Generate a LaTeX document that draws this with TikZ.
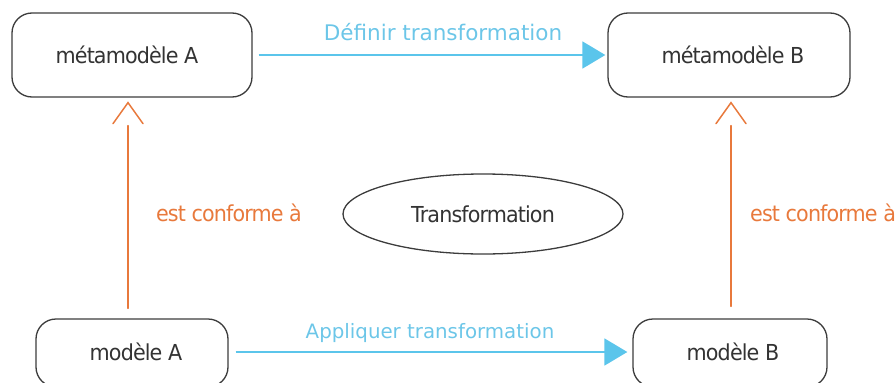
\documentclass[tikz,border=0pt]{standalone}
\usepackage{fontspec}
\setmainfont{DejaVu Sans}
\newfontfamily\condf{DejaVu Sans}[FakeStretch=0.94,LetterSpace=-4]
\usetikzlibrary{arrows.meta,shapes.geometric}
\definecolor{tblue}{HTML}{5BC5EB}
\definecolor{tbluetext}{HTML}{6CC6E8}
\definecolor{torange}{HTML}{E8793C}
\definecolor{tdark}{HTML}{333333}
\definecolor{tborder}{HTML}{3C3C3C}
\tikzset{
  txtfont/.style={font=\condf\fontsize{22}{24}\selectfont},
  boxnode/.style={draw=tborder,line width=1.3pt,rounded corners=20pt,fill=white,
    minimum width=#1,inner sep=0pt},
  boxtext/.style={text=tdark,txtfont,inner sep=0pt},
  ellnode/.style={draw=tborder,line width=1.3pt,ellipse,inner sep=0pt,
    minimum width=280pt,minimum height=80pt,text=tdark,txtfont},
  bluearrow/.style={draw=tblue,line width=1.8pt,-{Triangle[length=23pt,width=27pt]}},
  bluelabel/.style={text=tbluetext,inner sep=0pt},
  conf/.style={draw=torange,line width=1.5pt,line cap=round,line join=miter},
  conflabel/.style={text=torange,txtfont,inner sep=0pt},
}
\begin{document}
\begin{tikzpicture}[x=1pt,y=-1pt]
\useasboundingbox (0,0) rectangle (895,383);
\begin{scope}
\clip (0,0) rectangle (895,383);
\node[boxnode=240pt,minimum height=84pt] (MA) at (132,55) {};
\node[boxnode=242pt,minimum height=84pt] (MB) at (729,55) {};
\node[boxnode=192pt,minimum height=68pt] (mA) at (132,353) {};
\node[boxnode=194pt,minimum height=68pt] (mB) at (730,353) {};
\node[boxtext] (MAt) at (127,55) {métamodèle A};
\node[boxtext] (MBt) at (733,55) {métamodèle B};
\node[boxtext] (mAt) at (136,352) {modèle A};
\node[boxtext] (mBt) at (733,352) {modèle B};
\node[ellnode] (T) at (483,214) {Transformation};

\draw[bluearrow,shorten <=6pt,shorten >=2pt] (MA.east) -- (MB.west);
\draw[bluearrow,shorten <=7pt,shorten >=5pt] ([yshift=1pt]mA.east) -- ([yshift=1pt]mB.west);
\node[bluelabel,font=\fontsize{21.5}{23}\selectfont] (l1) at (443,32) {Définir transformation};
\node[bluelabel,font=\fontsize{19.8}{22}\selectfont] (l2) at (430,333) {Appliquer transformation};

\draw[conf] ([xshift=-4pt,yshift=10pt]mA.north) -- ([xshift=-4pt,yshift=-28pt]MA.south);
\draw[conf] ([xshift=-19pt,yshift=-26pt]MA.south) -- ([xshift=-4pt,yshift=-5pt]MA.south) -- ([xshift=11pt,yshift=-26pt]MA.south);
\draw[conf] ([xshift=1pt,yshift=12pt]mB.north) -- ([xshift=2pt,yshift=-28pt]MB.south);
\draw[conf] ([xshift=-13pt,yshift=-26pt]MB.south) -- ([xshift=2pt,yshift=-5pt]MB.south) -- ([xshift=17pt,yshift=-26pt]MB.south);
\node[conflabel] (c1) at (229,213) {est conforme à};
\node[conflabel,anchor=west] (c2) at (750,213) {est conforme à};
\end{scope}
\end{tikzpicture}
\end{document}
